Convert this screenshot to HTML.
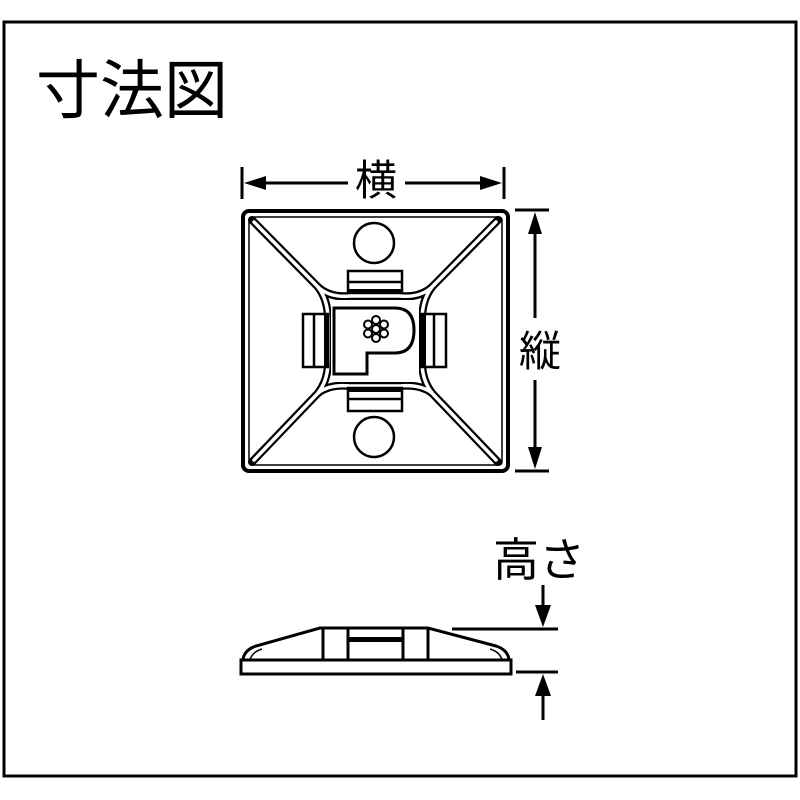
<!DOCTYPE html>
<html><head><meta charset="utf-8"><style>
html,body{margin:0;padding:0;background:#fff;}
svg{display:block;}
text{font-family:"Liberation Sans","Noto Sans CJK JP",sans-serif;fill:#000;}
</style></head><body>
<svg width="800" height="800" viewBox="0 0 800 800" xmlns="http://www.w3.org/2000/svg">
<rect x="4" y="22" width="792" height="754" fill="none" stroke="#000" stroke-width="3"/>
<text x="36" y="113" font-size="64">寸法図</text>

<text x="376" y="195" font-size="42" text-anchor="middle">横</text>
<g stroke="#000" stroke-width="3" fill="none">
<line x1="242" y1="167" x2="242" y2="199"/>
<line x1="504" y1="167" x2="504" y2="199"/>
<line x1="255" y1="183" x2="348" y2="183"/>
<line x1="405" y1="183" x2="490" y2="183"/>
</g>
<polygon points="244,183 266,176 266,190" fill="#000"/>
<polygon points="502,183 480,176 480,190" fill="#000"/>

<g stroke="#000" stroke-width="3" fill="none">
<line x1="515" y1="210" x2="549" y2="210"/>
<line x1="515" y1="471" x2="549" y2="471"/>
<line x1="535" y1="222" x2="535" y2="318"/>
<line x1="535" y1="380" x2="535" y2="460"/>
</g>
<polygon points="535,212 528,234 542,234" fill="#000"/>
<polygon points="535,469 528,447 542,447" fill="#000"/>
<text x="540" y="366" font-size="42" text-anchor="middle">縦</text>

<rect x="243" y="211" width="265" height="260" rx="6" fill="none" stroke="#000" stroke-width="4"/>
<rect x="249" y="217" width="253" height="248" rx="3" fill="none" stroke="#000" stroke-width="1.5"/>
<g fill="none" stroke-linecap="round">
<g stroke="#000" stroke-width="8">
<line x1="252" y1="220" x2="320" y2="289"/>
<line x1="498" y1="220" x2="430" y2="289"/>
<line x1="252" y1="462" x2="320" y2="391"/>
<line x1="498" y1="462" x2="430" y2="391"/>
<path d="M318,287 Q330,298 350,296 L400,296 Q420,298 432,287 Q422,300 422,320 L422,362 Q422,380 432,393 Q420,384 400,386 L350,386 Q330,384 318,393 Q328,380 328,362 L328,320 Q328,300 318,287 Z"/>
</g>
<g stroke="#fff" stroke-width="3.5">
<line x1="254" y1="222" x2="320" y2="289"/>
<line x1="496" y1="222" x2="430" y2="289"/>
<line x1="254" y1="460" x2="320" y2="391"/>
<line x1="496" y1="460" x2="430" y2="391"/>
<path d="M318,287 Q330,298 350,296 L400,296 Q420,298 432,287 Q422,300 422,320 L422,362 Q422,380 432,393 Q420,384 400,386 L350,386 Q330,384 318,393 Q328,380 328,362 L328,320 Q328,300 318,287 Z"/>
</g>
</g>
<path d="M331,300 L419,300 L419,382 L331,382 Z" fill="#fff"/>
<g fill="none" stroke="#000" stroke-width="2.5">
<circle cx="374" cy="243" r="20"/>
<circle cx="374" cy="437" r="20"/>
<rect x="348" y="271" width="54" height="21" fill="#fff"/>
<line x1="348" y1="282" x2="402" y2="282"/>
<rect x="348" y="388" width="54" height="23" fill="#fff"/>
<line x1="348" y1="399" x2="402" y2="399"/>
<rect x="303" y="314" width="25" height="53" fill="#fff"/>
<line x1="314" y1="314" x2="314" y2="367"/>
<rect x="421" y="314" width="25" height="53" fill="#fff"/>
<line x1="434" y1="314" x2="434" y2="367"/>
<path d="M334,308 L395,308 Q414,308 414,330 Q414,353 395,353 L367,353 L367,374 L334,374 Z" stroke-width="3"/>
</g>
<rect x="348" y="289" width="54" height="5" fill="#000"/>
<rect x="348" y="387" width="54" height="5" fill="#000"/>
<rect x="324" y="314" width="5" height="53" fill="#000"/>
<rect x="421" y="314" width="5" height="53" fill="#000"/>
<g fill="none" stroke="#000" stroke-width="2">
<circle cx="376" cy="329" r="4"/>
<circle cx="376" cy="320" r="4"/><circle cx="376" cy="338" r="4"/>
<circle cx="368" cy="324.5" r="4"/><circle cx="384" cy="324.5" r="4"/>
<circle cx="368" cy="333.5" r="4"/><circle cx="384" cy="333.5" r="4"/>
</g>

<text x="493" y="576" font-size="46">高さ</text>
<g fill="none" stroke="#000" stroke-width="3">
<rect x="241" y="660" width="270" height="14"/>
<path d="M243,660 Q244,650 256,646 L320,628 L428,628 L496,646 Q508,650 509,660"/>
<path d="M250,660 Q252,652 262,649" stroke-width="1.5"/>
<path d="M502,660 Q500,652 490,649" stroke-width="1.5"/>
<line x1="323" y1="629" x2="323" y2="660"/>
<line x1="348" y1="629" x2="348" y2="660"/>
<line x1="403" y1="629" x2="403" y2="660"/>
<line x1="428" y1="629" x2="428" y2="660"/>
<line x1="452" y1="629" x2="558" y2="629"/>
<line x1="516" y1="672" x2="558" y2="672"/>
<line x1="543" y1="585" x2="543" y2="610"/>
<line x1="543" y1="690" x2="543" y2="720"/>
</g>
<rect x="348" y="637" width="55" height="5" fill="#000"/>
<polygon points="543,627 535,605 551,605" fill="#000"/>
<polygon points="543,674 535,696 551,696" fill="#000"/>
</svg>
</body></html>
